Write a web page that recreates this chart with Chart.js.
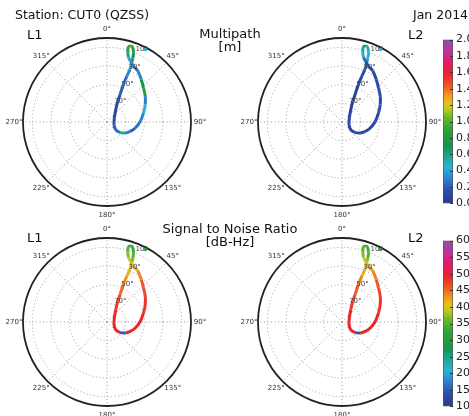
<!DOCTYPE html>
<html><head><meta charset="utf-8">
<script src="https://cdn.jsdelivr.net/npm/chart.js@4"></script>
<style>
html,body{margin:0;padding:0;background:#fff}
body{width:469px;height:416px;position:relative;overflow:hidden;font-family:"DejaVu Sans",sans-serif;color:#111}
.t{position:absolute;white-space:nowrap;line-height:1}
.c{text-align:center;width:200px;line-height:13px}
canvas{position:absolute}
</style></head><body>
<canvas id="mpL1" width="220" height="220" style="left:-3px;top:12px"></canvas>
<canvas id="mpL2" width="220" height="220" style="left:232px;top:12px"></canvas>
<canvas id="snrL1" width="220" height="220" style="left:-3px;top:212px"></canvas>
<canvas id="snrL2" width="220" height="220" style="left:232px;top:212px"></canvas>
<canvas id="cbMp" width="50" height="183" style="left:443px;top:30px"></canvas>
<canvas id="cbSnr" width="50" height="185" style="left:443px;top:231px"></canvas>

<div class="t" style="left:15px;top:9px;font-size:12.5px">Station: CUT0 (QZSS)</div>
<div class="t" style="left:413px;top:9px;font-size:12.5px">Jan 2014</div>
<div class="t c" style="left:130px;top:27px;font-size:13px">Multipath<br>[m]</div>
<div class="t c" style="left:130px;top:221.5px;font-size:13px">Signal to Noise Ratio<br>[dB-Hz]</div>
<div class="t" style="left:27px;top:27.5px;font-size:13px">L1</div>
<div class="t" style="left:408px;top:27.5px;font-size:13px">L2</div>
<div class="t" style="left:27px;top:230.5px;font-size:13px">L1</div>
<div class="t" style="left:408px;top:230.5px;font-size:13px">L2</div>

<script>
// QZSS track over CUT0 (azimuth, elevation in degrees)
const AZ = [22.1,22.7,23.5,23.4,23.6,25.5,27.5,35.3,61,111,131.5,128.7,121.4,112.2,102,89,76,65.5,56,46.9,38.8,31.2,25.3,21.5,18.3,16.3,15.9,17.1,18.7,20.9,22.1];
const EL = [16.4,22.0,28.6,36.4,46.1,57.4,65.0,73.7,81.0,81.9,77.5,72.1,67.3,63.2,59.1,54.4,49.7,45.0,40.6,36.4,31.5,26.2,23.7,20.5,16.7,10.7,6.4,4.7,5.1,10.4,16.4];
// values along the track
const MP_L1 = [0.75,0.45,0.3,0.25,0.2,0.15,0.1,0.1,0.15,0.2,0.25,0.55,0.3,0.2,0.25,0.3,0.45,0.3,0.85,0.7,0.3,0.25,0.3,0.4,0.6,0.85,0.9,0.85,0.8,0.7,0.75];
const MP_L2 = [0.35,0.2,0.12,0.1,0.08,0.08,0.06,0.06,0.08,0.1,0.1,0.12,0.1,0.08,0.08,0.1,0.12,0.1,0.15,0.12,0.1,0.12,0.15,0.25,0.4,0.55,0.7,0.6,0.5,0.45,0.35];
const SNR_L1 = [36,40,42,43,45,47,48,49,49,49,49,15,49,49,49,49,48,48,47,46,44,42,41,39,37,35,33,32,33,35,36];
const SNR_L2 = [37,40,42,44,46,47,48,49,49,49,49,15,49,49,49,49,48,48,47,46,44,43,41,39,37,35,34,33,34,35,37];
// lone low-elevation epoch next to the 10° label
const STRAY_AZ = [28];
const STRAY_EL = [2];
const STRAY_MP_L1 = [0.5], STRAY_MP_L2 = [0.45], STRAY_SNR_L1 = [31], STRAY_SNR_L2 = [31];

const AZ_TICKS = [0,45,90,135,180,225,270,315];
const EL_RINGS = [10,30,50,70];

// colour map of the colour bars (bottom -> top)
const CMAP = [[0,'#2a3990'],[0.08,'#2c4fae'],[0.15,'#2f80cf'],[0.22,'#2bb3d6'],[0.28,'#1ea79a'],[0.35,'#17944a'],[0.45,'#2da334'],[0.53,'#6cbc2a'],[0.57,'#b9c81f'],[0.61,'#e2c21f'],[0.65,'#f2a21f'],[0.70,'#f06a22'],[0.78,'#e9262a'],[0.86,'#e5186a'],[0.93,'#c0329e'],[1,'#8b54a2']];

Chart.defaults.font.family = '"DejaVu Sans", sans-serif';

const hex = h => [1,3,5].map(i => parseInt(h.substr(i,2),16));
function cmap(t){
  t = Math.max(0, Math.min(1, t));
  for (let i=1;i<CMAP.length;i++){
    if (t <= CMAP[i][0]) {
      const [t0,c0] = CMAP[i-1], [t1,c1] = CMAP[i];
      const f = (t-t0)/(t1-t0), a = hex(c0), b = hex(c1);
      return `rgb(${a.map((v,k)=>Math.round(v+(b[k]-v)*f)).join(',')})`;
    }
  }
  return CMAP[CMAP.length-1][1];
}
const toXY = (az, el) => { const z = 90-el, t = az*Math.PI/180; return {x: z*Math.sin(t), y: z*Math.cos(t)}; };

const polarGrid = {
  id:'polarGrid',
  beforeDatasetsDraw(chart){
    const {ctx, scales:{x,y}} = chart;
    const cx = x.getPixelForValue(0), cy = y.getPixelForValue(0);
    const rad = z => x.getPixelForValue(z) - cx;
    const R = rad(90);
    ctx.save();
    ctx.strokeStyle = '#9a9a9a'; ctx.lineWidth = 1; ctx.setLineDash([1,2.5]);
    EL_RINGS.forEach(e => { ctx.beginPath(); ctx.arc(cx,cy,rad(90-e),0,2*Math.PI); ctx.stroke(); });
    AZ_TICKS.forEach(a => { const t=a*Math.PI/180; ctx.beginPath(); ctx.moveTo(cx,cy); ctx.lineTo(cx+R*Math.sin(t), cy-R*Math.cos(t)); ctx.stroke(); });
    ctx.setLineDash([]); ctx.strokeStyle='#222'; ctx.lineWidth=1.8;
    ctx.beginPath(); ctx.arc(cx,cy,R,0,2*Math.PI); ctx.stroke();
    ctx.fillStyle='#333'; ctx.font='7px "DejaVu Sans"'; ctx.textAlign='center'; ctx.textBaseline='middle';
    AZ_TICKS.forEach(a => { const t=a*Math.PI/180; ctx.fillText(a+'°', cx+(R+9)*Math.sin(t), cy-(R+9)*Math.cos(t)); });
    ctx.restore();
  },
  afterDatasetsDraw(chart){
    const {ctx, scales:{x,y}} = chart;
    const cx = x.getPixelForValue(0), cy = y.getPixelForValue(0);
    const t = 22.5*Math.PI/180;
    ctx.save();
    ctx.fillStyle='#444'; ctx.font='7px "DejaVu Sans"'; ctx.textAlign='left'; ctx.textBaseline='bottom';
    EL_RINGS.forEach(e => { const r = x.getPixelForValue(90-e)-cx; ctx.fillText(e+'°', cx+r*Math.sin(t), cy-r*Math.cos(t)); });
    ctx.restore();
  }
};

function skyplot(id, vals, stray, lo, hi){
  const col = v => cmap((v-lo)/(hi-lo));
  const colors = vals.map(col);
  new Chart(document.getElementById(id), {
    type:'scatter',
    data:{datasets:[
      {data:AZ.map((a,i)=>toXY(a,EL[i])), showLine:true, borderWidth:3, pointRadius:0, tension:0.3,
       borderColor:colors[0], segment:{borderColor:c=>colors[c.p0DataIndex]}},
      {data:STRAY_AZ.map((a,i)=>toXY(a,STRAY_EL[i])), pointRadius:1.8, pointBorderWidth:0, pointBackgroundColor:stray.map(col)}
    ]},
    options:{responsive:false, animation:false, layout:{padding:26},
      scales:{x:{type:'linear',min:-90,max:90,display:false}, y:{type:'linear',min:-90,max:90,display:false}},
      plugins:{legend:{display:false}, tooltip:{enabled:false}}},
    plugins:[polarGrid]
  });
}

// small inward tick marks on the right edge of the colour bar
const cbTicks = {
  id:'cbTicks',
  afterDatasetsDraw(chart){
    const {ctx, chartArea:a, scales:{y}} = chart;
    ctx.save(); ctx.strokeStyle='#333'; ctx.lineWidth=1;
    y.ticks.forEach(tk => { const p = Math.round(y.getPixelForValue(tk.value))+0.5; ctx.beginPath(); ctx.moveTo(a.right-3,p); ctx.lineTo(a.right,p); ctx.stroke(); });
    ctx.restore();
  }
};

function colorbar(id, lo, hi, step, digits){
  new Chart(document.getElementById(id), {
    type:'bar',
    data:{labels:[''], datasets:[{data:[[lo,hi]], borderColor:'#555', borderWidth:1, borderSkipped:false, barPercentage:1, categoryPercentage:1,
      backgroundColor:c=>{
        const a = c.chart.chartArea; if (!a) return '#fff';
        const g = c.chart.ctx.createLinearGradient(0,a.bottom,0,a.top);
        CMAP.forEach(([t,cl])=>g.addColorStop(t,cl));
        return g;
      }}]},
    options:{responsive:false, animation:false, layout:{padding:{top:8,bottom:8,left:0,right:0}},
      scales:{x:{display:false},
        y:{position:'right', min:lo, max:hi, grid:{display:false, drawTicks:false, tickLength:0}, border:{display:false},
           ticks:{stepSize:step, callback:v=>Number(v).toFixed(digits), font:{size:11}, color:'#222', padding:3},
           afterFit:s=>{s.width=40;}}},
      plugins:{legend:{display:false}, tooltip:{enabled:false}}},
    plugins:[cbTicks]
  });
}

skyplot('mpL1', MP_L1, STRAY_MP_L1, 0, 2);
skyplot('mpL2', MP_L2, STRAY_MP_L2, 0, 2);
skyplot('snrL1', SNR_L1, STRAY_SNR_L1, 10, 60);
skyplot('snrL2', SNR_L2, STRAY_SNR_L2, 10, 60);
colorbar('cbMp', 0, 2, 0.2, 1);
colorbar('cbSnr', 10, 60, 5, 0);
</script>
</body></html>
